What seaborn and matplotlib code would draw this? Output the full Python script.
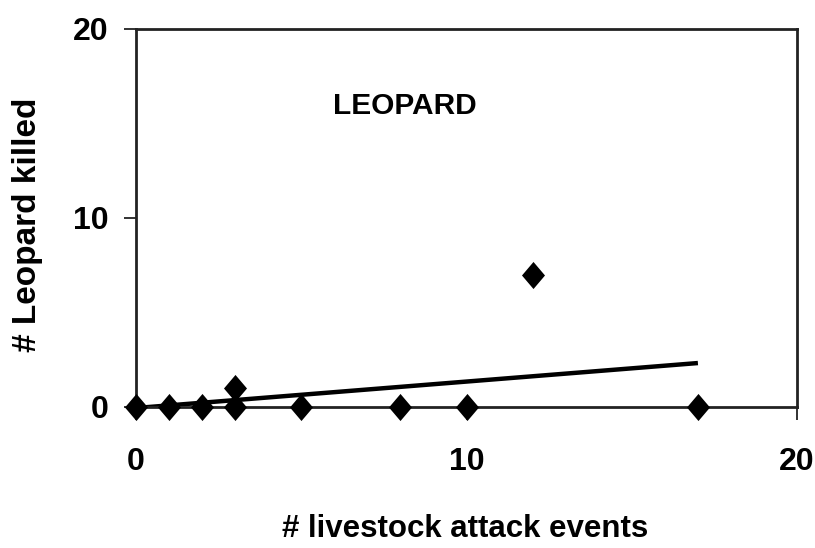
import matplotlib
matplotlib.use('Agg')
import matplotlib.pyplot as plt
import seaborn as sns
import pandas as pd
from matplotlib.path import Path
from matplotlib.markers import MarkerStyle

# ---- data ----
attack_events = [0, 1, 2, 3, 3, 5, 8, 10, 12, 17]
leopards_killed = [0, 0, 0, 0, 1, 0, 0, 0, 7, 0]
x_ticks = [0, 10, 20]
y_ticks = [0, 10, 20]
panel_label = "LEOPARD"
x_label = "# livestock attack events"
y_label = "# Leopard killed"

sns.set_theme(style="white")
plt.rcParams['font.family'] = ['Liberation Sans', 'DejaVu Sans']
plt.rcParams['font.weight'] = 'bold'

df = pd.DataFrame({'events': attack_events, 'killed': leopards_killed})

fig = plt.figure(figsize=(8.15, 5.48), dpi=100)
ax = fig.add_axes([0.1669, 0.2573, 0.8111, 0.6898])

diamond = Path([(0, 1), (0.85, 0), (0, -1), (-0.85, 0), (0, 1)],
               [Path.MOVETO, Path.LINETO, Path.LINETO, Path.LINETO, Path.CLOSEPOLY])

sns.regplot(data=df, x='events', y='killed', ci=None, ax=ax,
            marker=MarkerStyle(diamond),
            scatter_kws={'s': 380, 'color': 'black', 'clip_on': False,
                         'zorder': 3, 'linewidths': 0, 'alpha': 1},
            line_kws={'color': 'black', 'lw': 3.2, 'solid_capstyle': 'butt',
                      'zorder': 2})

ax.set_xlim(0, 20)
ax.set_ylim(0, 20)
ax.set_xticks(x_ticks)
ax.set_yticks(y_ticks)
ax.set_xticklabels([str(t) for t in x_ticks])
ax.set_yticklabels([str(t) for t in y_ticks])

for side in ['left', 'right', 'top', 'bottom']:
    ax.spines[side].set_visible(True)
    ax.spines[side].set_color('#222222')
    ax.spines[side].set_linewidth(2)

ax.tick_params(axis='both', which='both', bottom=True, left=True,
               direction='out', length=9, width=1.3, color='#222222',
               labelsize=23, labelcolor='black')
ax.tick_params(axis='x', pad=20)
ax.tick_params(axis='y', pad=11)
for lbl in ax.get_xticklabels() + ax.get_yticklabels():
    lbl.set_fontweight('bold')

ax.set_xlabel(x_label, fontsize=22.5, fontweight='bold', color='black')
ax.set_ylabel(y_label, fontsize=24, fontweight='bold', color='black')
ax.xaxis.set_label_coords(0.498, -0.283)
ax.yaxis.set_label_coords(-0.141, 0.483)

ax.text(0.407, 0.797, panel_label, transform=ax.transAxes, ha='center',
        va='center', fontsize=21.5, fontweight='bold', color='black')

fig.savefig('out.png', dpi=100)
